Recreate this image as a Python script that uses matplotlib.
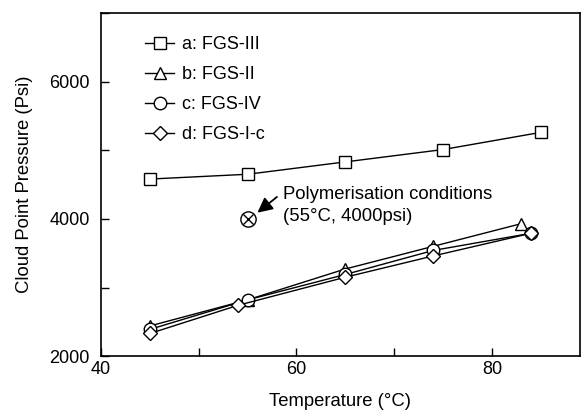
import matplotlib.pyplot as plt
from matplotlib.ticker import MultipleLocator

plt.rcParams['font.family'] = ['Liberation Sans', 'DejaVu Sans']

# datos
temp_a = [45, 55, 65, 75, 85]
pres_a = [4580, 4650, 4830, 5010, 5260]
temp_b = [45, 55, 65, 74, 83]
pres_b = [2440, 2820, 3270, 3600, 3930]
temp_c = [45, 55, 65, 74, 84]
pres_c = [2390, 2820, 3190, 3540, 3790]
temp_d = [45, 54, 65, 74, 84]
pres_d = [2330, 2740, 3150, 3460, 3790]
etiquetas = ['a: FGS-III', 'b: FGS-II', 'c: FGS-IV', 'd: FGS-I-c']
poly_t = 55
poly_p = 4000

fig = plt.figure(figsize=(5.81, 4.18), dpi=100)
ax = fig.add_axes([0.174, 0.148, 0.824, 0.821])

estilo = dict(color='black', lw=1, mfc='white', mec='black', mew=1)
ax.plot(temp_a, pres_a, marker='s', ms=9, label=etiquetas[0], **estilo)
ax.plot(temp_b, pres_b, marker='^', ms=9, label=etiquetas[1], **estilo)
ax.plot(temp_c, pres_c, marker='o', ms=9, label=etiquetas[2], **estilo)
ax.plot(temp_d, pres_d, marker='D', ms=7, label=etiquetas[3], **estilo)

# punto de polimerizacion
ax.plot([poly_t], [poly_p], marker='o', ms=11, mfc='white', mec='black', mew=1, ls='none')
ax.plot([poly_t], [poly_p], marker='x', ms=7, color='black', mew=1, ls='none')
ax.annotate('', xy=(56.0, 4090), xytext=(58.0, 4320),
            arrowprops=dict(arrowstyle='-|>,head_length=0.9,head_width=0.45',
                            color='black', lw=1.3, shrinkA=0, shrinkB=0))
ax.text(58.6, 4200, 'Polymerisation conditions\n(55\u00b0C, 4000psi)',
        fontsize=13.3, va='center', ha='left', linespacing=1.4)

ax.set_xlim(40, 89)
ax.set_ylim(2000, 7000)
ax.xaxis.set_major_locator(MultipleLocator(20))
ax.xaxis.set_minor_locator(MultipleLocator(10))
ax.yaxis.set_major_locator(MultipleLocator(2000))
ax.yaxis.set_minor_locator(MultipleLocator(1000))
ax.tick_params(which='both', direction='in', labelsize=13, width=1)
ax.tick_params(which='major', length=6)
ax.tick_params(which='minor', length=6)
ax.tick_params(axis='y', pad=8)
for s in ax.spines.values():
    s.set_linewidth(1.2)

ax.set_xlabel('Temperature (\u00b0C)', fontsize=13.3, labelpad=11)
ax.set_ylabel('Cloud Point Pressure (Psi)', fontsize=13.3, labelpad=12)

ax.legend(loc='upper left', frameon=False, fontsize=13, handlelength=1.6,
          handletextpad=0.45, labelspacing=0.72, borderaxespad=0.6,
          bbox_to_anchor=(0.055, 0.985))

fig.savefig('out.png', dpi=100)
